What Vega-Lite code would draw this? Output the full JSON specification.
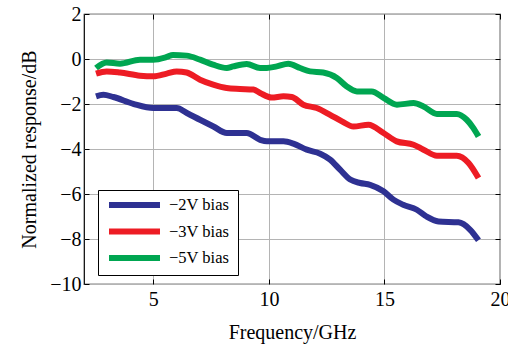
{
  "$schema": "https://vega.github.io/schema/vega-lite/v6.json",
  "autosize": "none",
  "width": 416,
  "height": 270,
  "padding": {"left": 84, "top": 14, "right": 8, "bottom": 61},
  "background": "white",
  "config": {
    "view": {"stroke": "black", "strokeWidth": 1.2},
    "font": "Liberation Serif"
  },
  "data": {"values": [
    {"f": 2.52, "r": -0.4, "s": "−5V bias"},
    {"f": 2.98, "r": -0.15, "s": "−5V bias"},
    {"f": 3.56, "r": -0.21, "s": "−5V bias"},
    {"f": 4.42, "r": -0.03, "s": "−5V bias"},
    {"f": 4.99, "r": -0.03, "s": "−5V bias"},
    {"f": 5.58, "r": 0.09, "s": "−5V bias"},
    {"f": 5.85, "r": 0.18, "s": "−5V bias"},
    {"f": 6.44, "r": 0.15, "s": "−5V bias"},
    {"f": 7.02, "r": -0.03, "s": "−5V bias"},
    {"f": 7.58, "r": -0.25, "s": "−5V bias"},
    {"f": 8.18, "r": -0.4, "s": "−5V bias"},
    {"f": 8.45, "r": -0.33, "s": "−5V bias"},
    {"f": 9.04, "r": -0.22, "s": "−5V bias"},
    {"f": 9.62, "r": -0.4, "s": "−5V bias"},
    {"f": 9.91, "r": -0.4, "s": "−5V bias"},
    {"f": 10.34, "r": -0.33, "s": "−5V bias"},
    {"f": 10.84, "r": -0.21, "s": "−5V bias"},
    {"f": 11.35, "r": -0.4, "s": "−5V bias"},
    {"f": 11.78, "r": -0.55, "s": "−5V bias"},
    {"f": 12.35, "r": -0.6, "s": "−5V bias"},
    {"f": 12.94, "r": -0.84, "s": "−5V bias"},
    {"f": 13.37, "r": -1.22, "s": "−5V bias"},
    {"f": 13.81, "r": -1.44, "s": "−5V bias"},
    {"f": 14.45, "r": -1.44, "s": "−5V bias"},
    {"f": 14.96, "r": -1.73, "s": "−5V bias"},
    {"f": 15.54, "r": -2.03, "s": "−5V bias"},
    {"f": 16.26, "r": -1.96, "s": "−5V bias"},
    {"f": 16.69, "r": -2.11, "s": "−5V bias"},
    {"f": 17.27, "r": -2.44, "s": "−5V bias"},
    {"f": 18.13, "r": -2.44, "s": "−5V bias"},
    {"f": 18.56, "r": -2.7, "s": "−5V bias"},
    {"f": 18.85, "r": -3.07, "s": "−5V bias"},
    {"f": 19.07, "r": -3.44, "s": "−5V bias"},

    {"f": 2.52, "r": -0.65, "s": "−3V bias"},
    {"f": 2.98, "r": -0.55, "s": "−3V bias"},
    {"f": 3.56, "r": -0.6, "s": "−3V bias"},
    {"f": 4.42, "r": -0.74, "s": "−3V bias"},
    {"f": 5.0, "r": -0.77, "s": "−3V bias"},
    {"f": 5.58, "r": -0.65, "s": "−3V bias"},
    {"f": 6.01, "r": -0.55, "s": "−3V bias"},
    {"f": 6.44, "r": -0.6, "s": "−3V bias"},
    {"f": 7.02, "r": -0.92, "s": "−3V bias"},
    {"f": 7.59, "r": -1.14, "s": "−3V bias"},
    {"f": 8.17, "r": -1.29, "s": "−3V bias"},
    {"f": 8.75, "r": -1.33, "s": "−3V bias"},
    {"f": 9.33, "r": -1.36, "s": "−3V bias"},
    {"f": 9.62, "r": -1.51, "s": "−3V bias"},
    {"f": 10.12, "r": -1.71, "s": "−3V bias"},
    {"f": 10.63, "r": -1.66, "s": "−3V bias"},
    {"f": 10.99, "r": -1.69, "s": "−3V bias"},
    {"f": 11.49, "r": -2.03, "s": "−3V bias"},
    {"f": 12.07, "r": -2.18, "s": "−3V bias"},
    {"f": 12.65, "r": -2.48, "s": "−3V bias"},
    {"f": 13.16, "r": -2.77, "s": "−3V bias"},
    {"f": 13.66, "r": -3.0, "s": "−3V bias"},
    {"f": 14.31, "r": -2.92, "s": "−3V bias"},
    {"f": 14.96, "r": -3.29, "s": "−3V bias"},
    {"f": 15.53, "r": -3.66, "s": "−3V bias"},
    {"f": 16.26, "r": -3.81, "s": "−3V bias"},
    {"f": 16.69, "r": -4.03, "s": "−3V bias"},
    {"f": 17.27, "r": -4.3, "s": "−3V bias"},
    {"f": 18.13, "r": -4.3, "s": "−3V bias"},
    {"f": 18.64, "r": -4.62, "s": "−3V bias"},
    {"f": 19.07, "r": -5.29, "s": "−3V bias"},

    {"f": 2.52, "r": -1.66, "s": "−2V bias"},
    {"f": 2.84, "r": -1.59, "s": "−2V bias"},
    {"f": 3.27, "r": -1.69, "s": "−2V bias"},
    {"f": 4.13, "r": -1.99, "s": "−2V bias"},
    {"f": 5.0, "r": -2.18, "s": "−2V bias"},
    {"f": 6.01, "r": -2.18, "s": "−2V bias"},
    {"f": 6.45, "r": -2.4, "s": "−2V bias"},
    {"f": 7.02, "r": -2.7, "s": "−2V bias"},
    {"f": 7.6, "r": -3.0, "s": "−2V bias"},
    {"f": 8.18, "r": -3.29, "s": "−2V bias"},
    {"f": 9.04, "r": -3.29, "s": "−2V bias"},
    {"f": 9.62, "r": -3.59, "s": "−2V bias"},
    {"f": 9.91, "r": -3.66, "s": "−2V bias"},
    {"f": 10.63, "r": -3.66, "s": "−2V bias"},
    {"f": 11.06, "r": -3.76, "s": "−2V bias"},
    {"f": 11.64, "r": -4.03, "s": "−2V bias"},
    {"f": 12.22, "r": -4.21, "s": "−2V bias"},
    {"f": 12.65, "r": -4.47, "s": "−2V bias"},
    {"f": 13.08, "r": -4.92, "s": "−2V bias"},
    {"f": 13.52, "r": -5.36, "s": "−2V bias"},
    {"f": 13.95, "r": -5.51, "s": "−2V bias"},
    {"f": 14.38, "r": -5.59, "s": "−2V bias"},
    {"f": 14.96, "r": -5.88, "s": "−2V bias"},
    {"f": 15.39, "r": -6.25, "s": "−2V bias"},
    {"f": 15.81, "r": -6.48, "s": "−2V bias"},
    {"f": 16.4, "r": -6.7, "s": "−2V bias"},
    {"f": 16.82, "r": -7.0, "s": "−2V bias"},
    {"f": 17.34, "r": -7.22, "s": "−2V bias"},
    {"f": 18.2, "r": -7.26, "s": "−2V bias"},
    {"f": 18.71, "r": -7.59, "s": "−2V bias"},
    {"f": 19.07, "r": -8.06, "s": "−2V bias"}
  ]},
  "layer": [
    {
      "mark": {"type": "line", "strokeWidth": 6, "interpolate": "monotone", "strokeCap": "butt", "strokeJoin": "round"},
      "encoding": {
        "x": {"field": "f", "type": "quantitative",
          "scale": {"domain": [2, 20], "nice": false, "zero": false},
          "axis": {"title": "Frequency/GHz", "values": [5, 10, 15, 20], "format": "d",
            "labelFont": "Liberation Serif", "labelFontSize": 20, "labelColor": "black", "labelPadding": 10,
            "titleFont": "Liberation Serif", "titleFontSize": 20, "titleFontWeight": "normal", "titleColor": "black", "titlePadding": 13,
            "tickSize": -5, "tickColor": "black", "domain": false,
            "grid": true, "gridColor": "#b4b4b4", "gridWidth": 1, "labelFlush": false}},
        "y": {"field": "r", "type": "quantitative",
          "scale": {"domain": [-10, 2], "nice": false, "zero": false},
          "axis": {"title": "Normalized response/dB", "values": [-10, -8, -6, -4, -2, 0, 2], "format": "d",
            "labelFont": "Liberation Serif", "labelFontSize": 20, "labelColor": "black", "labelPadding": 8,
            "titleFont": "Liberation Serif", "titleFontSize": 20, "titleFontWeight": "normal", "titleColor": "black", "titlePadding": 10,
            "tickSize": -5, "tickColor": "black", "domain": false,
            "grid": true, "gridColor": "#b4b4b4", "gridWidth": 1, "labelFlush": false}},
        "color": {"field": "s", "type": "nominal",
          "scale": {"domain": ["−2V bias", "−3V bias", "−5V bias"], "range": ["#2e3192", "#ed1c24", "#00a651"]},
          "legend": {"title": null, "orient": "none", "legendX": 14, "legendY": 176,
            "symbolType": "stroke", "symbolSize": 2600, "symbolStrokeWidth": 6, "clipHeight": 14,
            "rowPadding": 9.5, "padding": 8, "labelOffset": 6,
            "labelFont": "Liberation Serif", "labelFontSize": 16.5, "labelColor": "black",
            "strokeColor": "black", "fillColor": "white"}}
      }
    },
    {
      "mark": {"type": "line", "opacity": 0},
      "encoding": {
        "x": {"field": "f", "type": "quantitative",
          "axis": {"orient": "top", "title": null, "labels": false, "grid": false, "domain": false,
            "values": [5, 10, 15, 20], "tickSize": -5, "tickColor": "black"}},
        "y": {"field": "r", "type": "quantitative",
          "axis": {"orient": "right", "title": null, "labels": false, "grid": false, "domain": false,
            "values": [-10, -8, -6, -4, -2, 0, 2], "tickSize": -5, "tickColor": "black"}},
        "detail": {"field": "s"}
      }
    }
  ],
  "resolve": {"axis": {"x": "independent", "y": "independent"}}
}
